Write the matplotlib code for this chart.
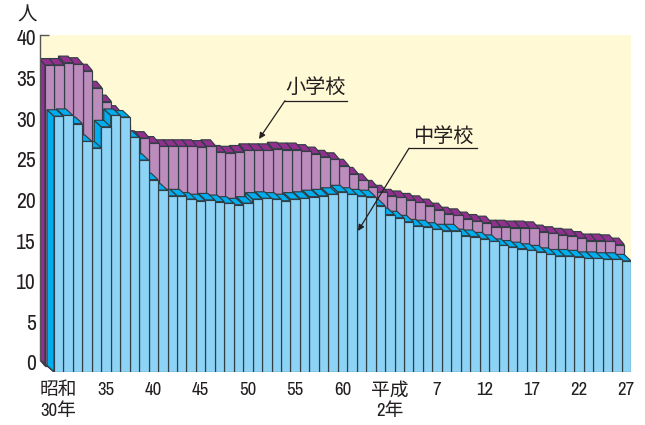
import matplotlib
matplotlib.use('Agg')
import matplotlib.pyplot as plt
from matplotlib.transforms import ScaledTranslation
plt.rcParams['font.family'] = ['Archivo Narrow', 'Noto Sans CJK JP', 'DejaVu Sans']

# 昭和30年 .. 平成27年, one value per year
shogakko = [36.3, 36.3, 36.6, 36.4, 35.6, 33.5, 31.8, 30.5, 28.9, 27.4,
            27.3, 26.7, 26.3, 26.3, 26.3, 26.3, 26.2, 26.3, 25.6, 25.5,
            25.6, 25.8, 25.8, 25.8, 26.0, 25.9, 25.9, 25.7, 25.4, 25.0,
            24.7, 23.9, 22.9, 22.1, 21.3, 20.7, 20.2, 20.0, 19.7, 19.4,
            19.0, 18.5, 18.0, 17.8, 17.4, 17.1, 16.9, 16.4, 16.4, 16.3,
            16.3, 16.2, 15.8, 15.6, 15.4, 15.3, 15.0, 14.7, 14.7, 14.6,
            14.2]
chugakko = [30.0, 30.1, 29.1, 26.9, 26.1, 28.7, 30.1, 29.9, 27.4, 24.6,
            22.2, 20.9, 20.2, 20.2, 19.8, 19.6, 19.7, 19.5, 19.3, 19.1,
            19.3, 19.8, 19.9, 19.8, 19.6, 19.8, 19.9, 20.1, 20.2, 20.4,
            20.7, 20.4, 20.2, 20.1, 19.0, 17.9, 17.5, 17.0, 16.5, 16.4,
            16.1, 15.9, 15.9, 15.3, 15.2, 14.9, 14.6, 14.1, 13.9, 13.7,
            13.5, 13.3, 13.0, 12.8, 12.8, 12.7, 12.5, 12.5, 12.4, 12.4,
            12.2]
tick_idx = [0, 5, 10, 15, 20, 25, 30, 35, 40, 45, 50, 55, 60]
tick_labels = ['昭和\n30年', '35', '40', '45', '50', '55', '60', '平成\n2年',
               '7', '12', '17', '22', '27']
y_ticks = [0, 5, 10, 15, 20, 25, 30, 35, 40]

W, H = 645, 425
px_x = 9.46   # one bar
px_y = 8.125  # one 人
edge = '#323e44'
lw = 0.85


def fp(x, y):
    return x / W, 1 - y / H


def box(ax, z, x, v, floor, dx, dy, front, top):
    # oblique bar, the back is shifted up and to the left
    ax.fill([x, x, x - dx, x - dx], [floor, v, v + dy, floor + dy], facecolor=top, edgecolor=edge, lw=lw, zorder=z)
    ax.fill([x, x + 1, x + 1 - dx, x - dx], [v, v, v + dy, v + dy], facecolor=top, edgecolor=edge, lw=lw, zorder=z)
    ax.bar(x, v - floor, width=1, bottom=floor, align='edge', color=front, edgecolor=edge, linewidth=lw, zorder=z)


fig = plt.figure(figsize=(6.45, 4.25), dpi=100)
ax = fig.add_axes([40 / W, 1 - 372 / H, 591 / W, 337 / H])
ax.set_facecolor('none')
ax.set_xlim(-14 / px_x, 61)
ax.set_ylim(-12 / px_y, 40)

ax.fill([-14 / px_x, 61, 61, -14 / px_x], [0, 0, 40, 40], color='#fff9d6', lw=0, zorder=1)

# back row first, then right to left so the left bars hide the tops behind them
z = 2
for i in range(len(shogakko) - 1, -1, -1):
    box(ax, z, i * 1.004 - 9 / px_x, shogakko[i], -6 / px_y, 5.5 / px_x, 6.5 / px_y, '#bc8cbd', '#92308f')
    z += 1
for i in range(len(chugakko) - 1, -1, -1):
    box(ax, z, i, chugakko[i], -12 / px_y, 7 / px_x, 6.5 / px_y, '#8dd3f5', '#00aeef')
    z += 1

ax.plot([-14 / px_x, 0], [0, -12 / px_y], color=edge, lw=lw, zorder=200)

for s in ['top', 'right', 'bottom']:
    ax.spines[s].set_visible(False)
ax.spines['left'].set_bounds(0, 40)
ax.spines['left'].set_color('#555555')
ax.spines['left'].set_linewidth(1.0)
ax.spines['left'].set_zorder(300)
ax.set_axisbelow(False)

ax.set_yticks(y_ticks)
ax.tick_params(axis='y', direction='in', length=6.5, width=1.0, color='#555555', pad=3, labelsize=15.5, labelcolor='#231f20')
# the numbers sit a little below their ticks in the original
shift = ScaledTranslation(0, -2.5 / 100, fig.dpi_scale_trans)
for t in ax.get_yticklabels():
    t.set_transform(t.get_transform() + shift)
ax.set_xticks([i + 0.5 for i in tick_idx])
ax.set_xticklabels(tick_labels, linespacing=1.3)
ax.tick_params(axis='x', length=0, pad=7, labelsize=13.5, labelcolor='#231f20')

fig.text(*fp(27, 15), '人', fontsize=14, color='#231f20', ha='center', va='center')

for name, tx, ty, x0, x1, ly, ex, ey in [('小学校', 316, 87, 285, 347, 100.7, 259, 139),
                                         ('中学校', 443, 136, 409, 477, 148.3, 358, 231)]:
    fig.text(*fp(tx, ty), name, fontsize=14.5, color='#231f20', ha='center', va='center', zorder=400)
    fig.add_artist(plt.Line2D([x0 / W, x1 / W], [1 - ly / H, 1 - ly / H], color='#231f20', lw=0.9))
    ax.annotate('', xy=fp(ex, ey), xytext=fp(x0, ly), xycoords='figure fraction', textcoords='figure fraction',
                arrowprops=dict(arrowstyle='-|>', color='#231f20', lw=0.9, shrinkA=0, shrinkB=0, mutation_scale=9),
                zorder=400)

fig.savefig('out.png', dpi=100)
